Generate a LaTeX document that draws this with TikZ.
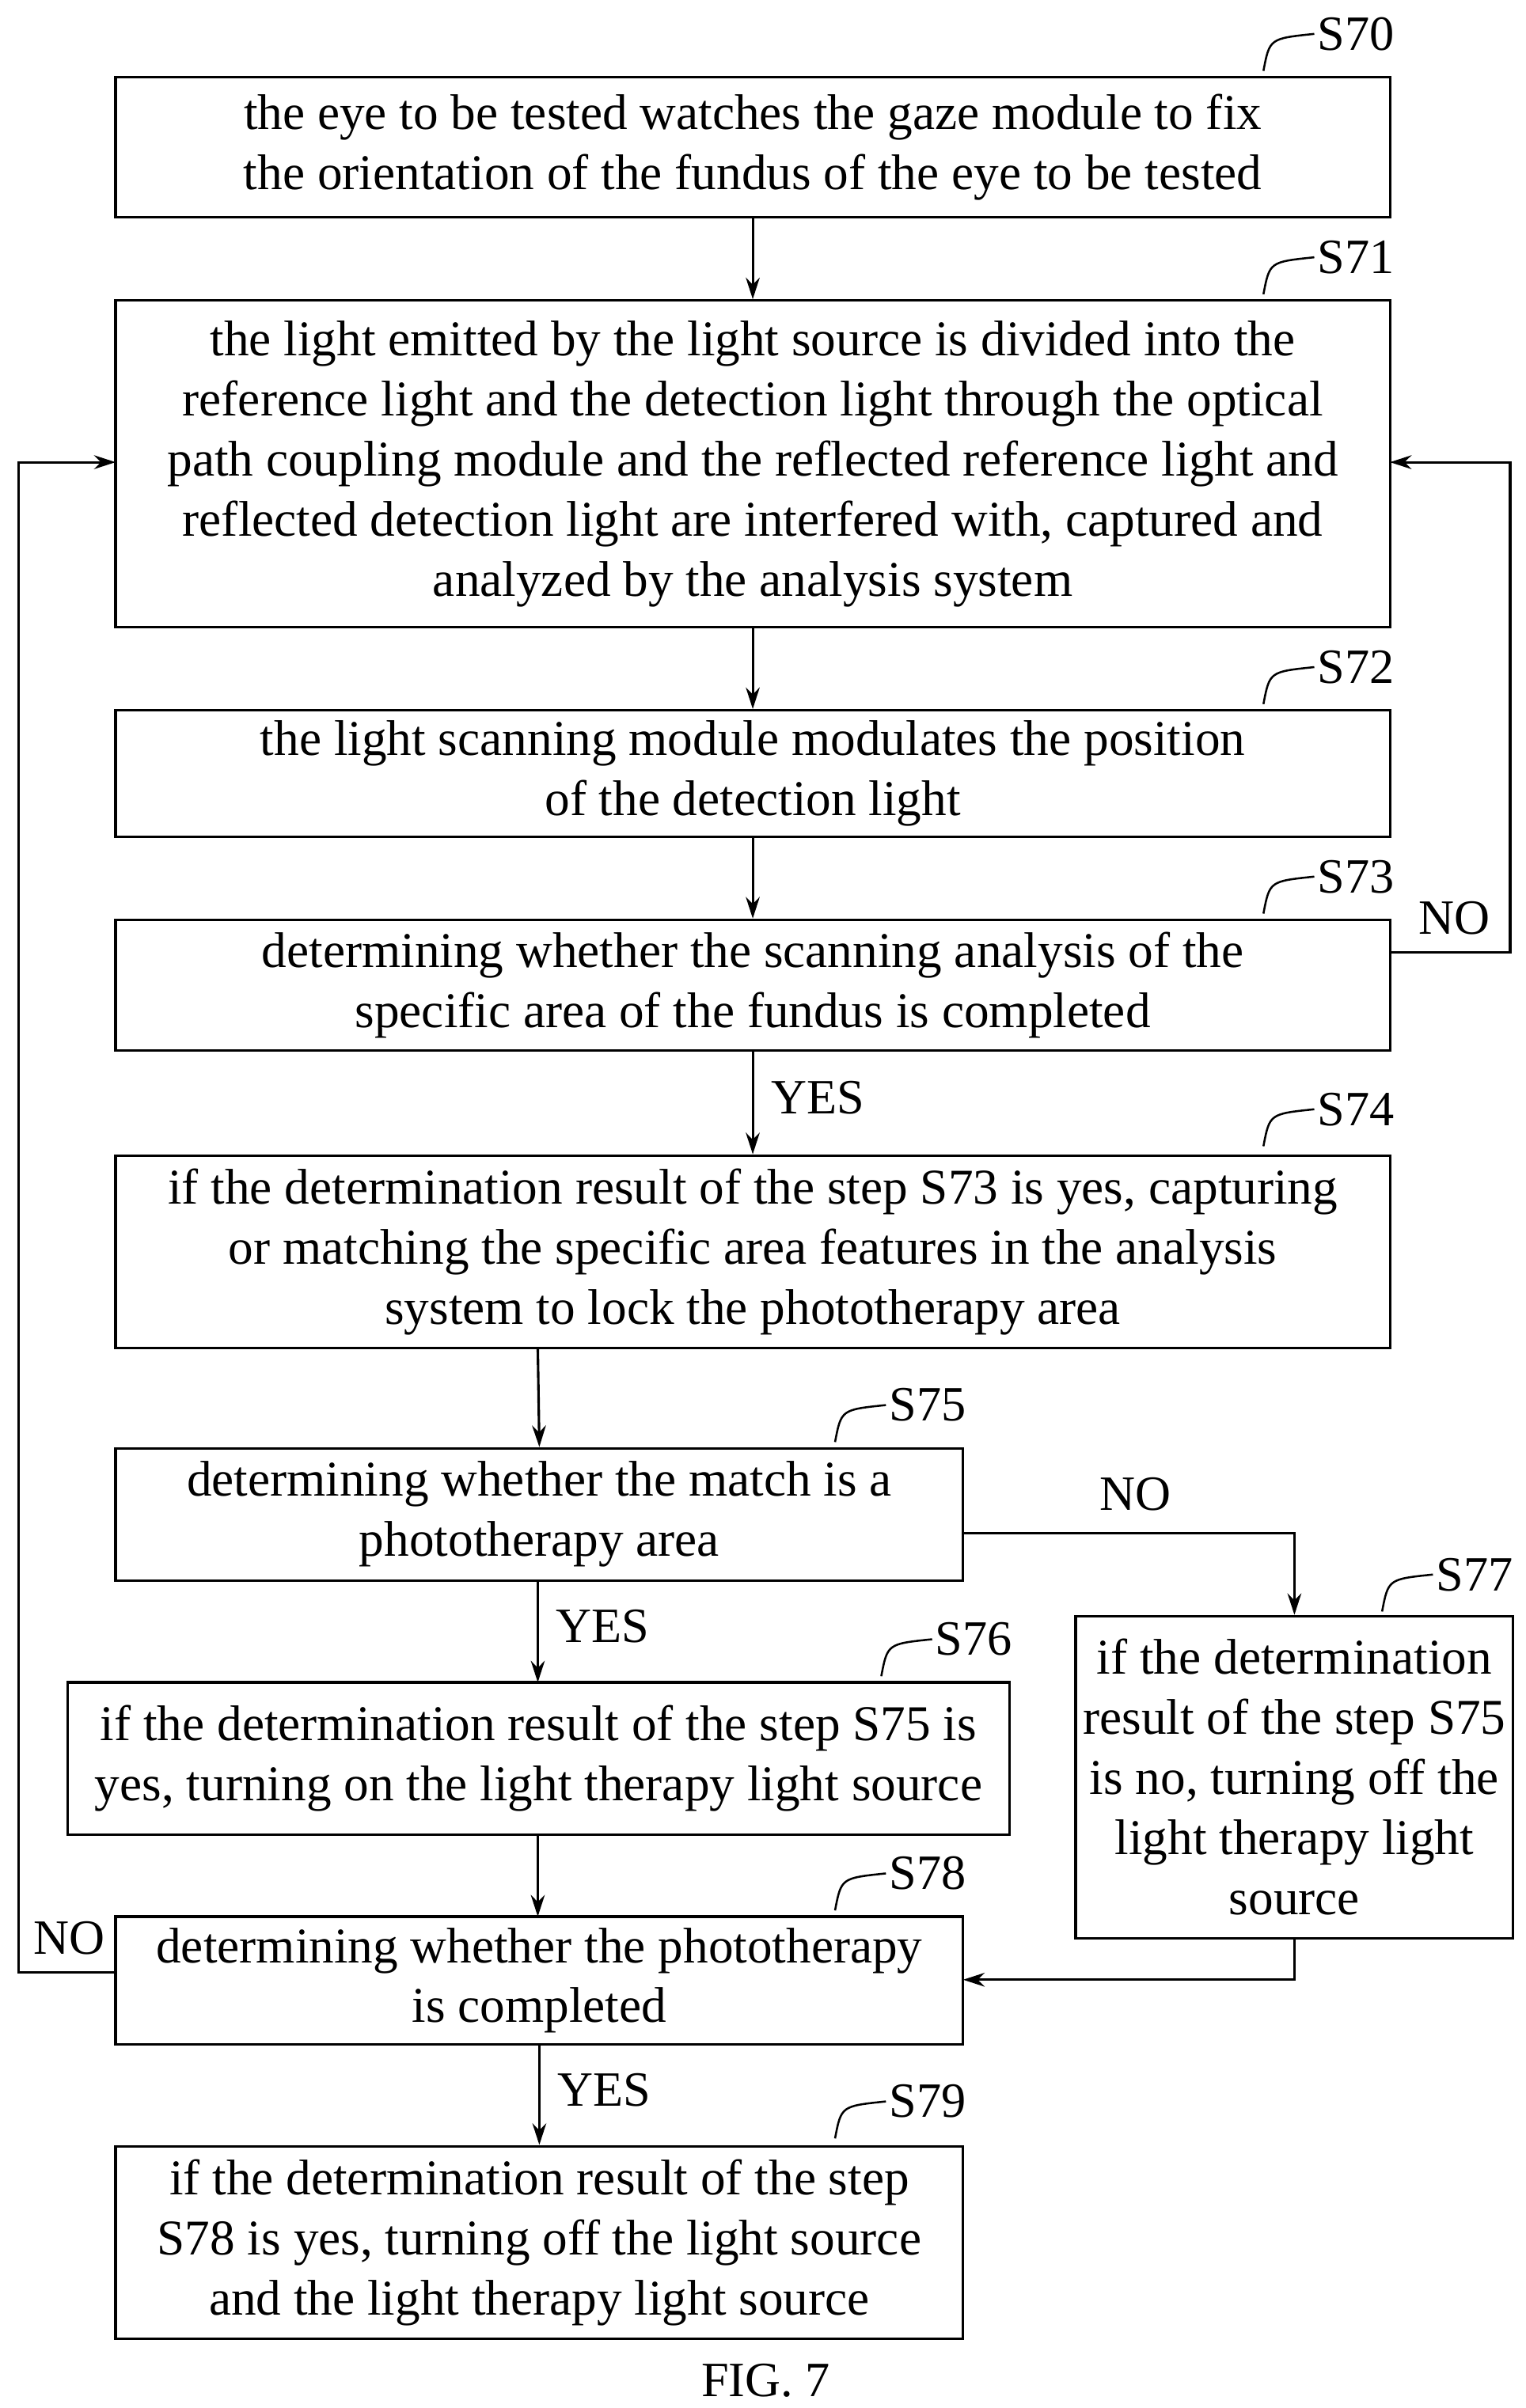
\documentclass[tikz,border=0pt]{standalone}
\usepackage{fontspec}
\setmainfont{Liberation Serif}
\usetikzlibrary{arrows.meta,calc}
\begin{document}
\begin{tikzpicture}[x=1pt,y=-1pt,
  box/.style={draw,line width=1.6pt,align=center,inner sep=0pt,font=\fontsize{32.5}{39}\selectfont},
  lab/.style={font=\fontsize{32}{36}\selectfont,inner sep=1pt},
  arr/.style={line width=1.6pt,-{Stealth[length=14pt,width=9pt]}},
  ln/.style={line width=1.6pt},
  tick/.style={line width=1.3pt}]
\useasboundingbox (0,0) rectangle (990,1563);
\newcommand{\bx}[6]{\node[box,minimum width=#3-#2,minimum height=#5-#4] (#1) at ({(#2+#3)/2},{(#4+#5)/2}) {#6};}
\bx{s70}{75}{902}{50}{141}{the eye to be tested watches the gaze module to fix\\the orientation of the fundus of the eye to be tested}
\bx{s71}{75}{902}{195}{407}{the light emitted by the light source is divided into the\\reference light and the detection light through the optical\\path coupling module and the reflected reference light and\\reflected detection light are interfered with, captured and\\analyzed by the analysis system}
\bx{s72}{75}{902}{461}{543}{the light scanning module modulates the position\\of the detection light}
\bx{s73}{75}{902}{597}{682}{determining whether the scanning analysis of the\\specific area of the fundus is completed}
\bx{s74}{75}{902}{750}{875}{if the determination result of the step S73 is yes, capturing\\or matching the specific area features in the analysis\\system to lock the phototherapy area}
\bx{s75}{75}{625}{940}{1026}{determining whether the match is a\\phototherapy area}
\bx{s76}{44}{655}{1092}{1191}{if the determination result of the step S75 is\\yes, turning on the light therapy light source}
\bx{s77}{698}{982}{1049}{1258}{if the determination\\result of the step S75\\is no, turning off the\\light therapy light\\source}
\bx{s78}{75}{625}{1244}{1327}{determining whether the phototherapy\\is completed}
\bx{s79}{75}{625}{1393}{1518}{if the determination result of the step\\S78 is yes, turning off the light source\\and the light therapy light source}
\node[lab] (fig) at (497,1545) {FIG. 7};
\foreach \n/\x/\y/\t in {l70/880/22/S70,l71/880/167/S71,l72/880/433/S72,l73/880/569/S73,l74/880/720/S74,l75/602/912/S75,l76/632/1064/S76,l77/957/1022/S77,l78/602/1216/S78,l79/602/1364/S79}{
  \node[lab] (\n) at (\x,\y) {\t};
  \draw[tick] ($(\n.west)+(-34,24)$) .. controls ($(\n.west)+(-30,3)$) .. ($(\n.west)+(-1,0)$);
}
\draw[arr] (s70.south) -- (s71.north);
\draw[arr] (s71.south) -- (s72.north);
\draw[arr] (s72.south) -- (s73.north);
\draw[arr] (s73.south) -- node[lab,right,pos=0.45,xshift=10pt]{YES} (s74.north);
\draw[arr] (349,875) -- (s75.north);
\draw[arr] (349,1026) -- node[lab,right,pos=0.45,xshift=10pt]{YES} (349,1092);
\draw[arr] (349,1191) -- (349,1244);
\draw[arr] (s78.south) -- node[lab,right,pos=0.45,xshift=10pt]{YES} (s79.north);
\coordinate (a1) at (980,618); \coordinate (a2) at (980,300);
\draw[arr] (902,618) -- (a1) -- (a2) -- (902,300);
\node[lab] (no1) at (944,596) {NO};
\coordinate (b1) at (12,1280); \coordinate (b2) at (12,300);
\draw[arr] (75,1280) -- (b1) -- (b2) -- (75,300);
\node[lab] (no2) at (45,1258) {NO};
\coordinate (c1) at (840,995);
\draw[arr] (625,995) -- (c1) -- (s77.north);
\node[lab] (no3) at (737,970) {NO};
\coordinate (d1) at (840,1285);
\draw[arr] (s77.south) -- (d1) -- (625,1285);
\end{tikzpicture}
\end{document}
